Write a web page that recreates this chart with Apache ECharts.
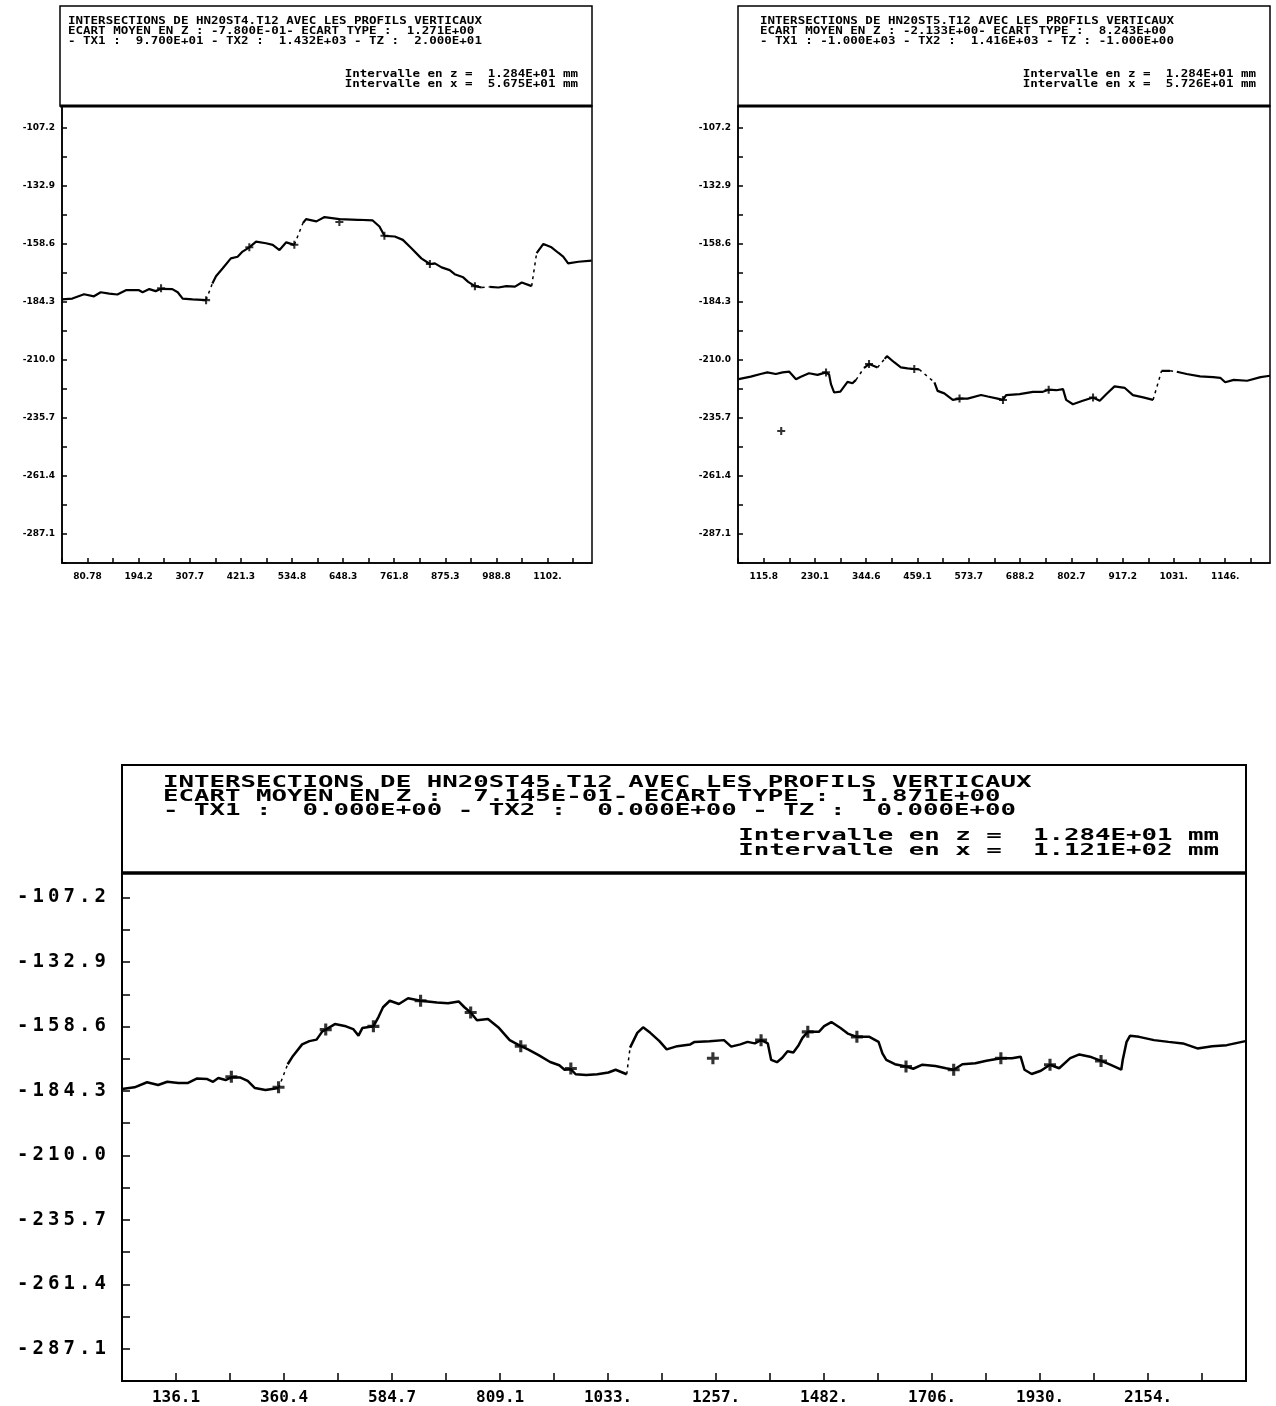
<!DOCTYPE html>
<html><head><meta charset="utf-8">
<script src="https://cdn.jsdelivr.net/npm/echarts@6/dist/echarts.min.js"></script>
<style>html,body{margin:0;padding:0;background:#fff}#c{width:1276px;height:1406px}</style>
</head><body><div id="c"></div><script>
// ---------- shared axis labels ----------
const yLabelVals = [-107.2, -132.9, -158.6, -184.3, -210.0, -235.7, -261.4, -287.1];
const yLabelTexts = ['-107.2', '-132.9', '-158.6', '-184.3', '-210.0', '-235.7', '-261.4', '-287.1'];
const zStep = 12.84;
const zMin = -299.94, zMax = -97.5;

// ---------- chart 1 : HN20ST4.T12 ----------
const tlXLabelVals = [80.78, 194.2, 307.7, 421.3, 534.8, 648.3, 761.8, 875.3, 988.8, 1102];
const tlXLabelTexts = ['80.78', '194.2', '307.7', '421.3', '534.8', '648.3', '761.8', '875.3', '988.8', '1102.'];
const tlXStep = 56.75, tlXMin = 24.03, tlXMax = 1201;
const tlX = [24, 47, 73, 95, 110, 129, 147, 166, 195, 203, 218, 232, 244, 269, 281, 292, 314, 344, null,
  358, 366, 381, 399, 414, 425, 440, 455, 477, 492, 507, 522, 540, null,
  559, 566, 589, 607, 640, 681, 714, 729, 740, 763, 781, 800, 822, 841, 852, 867, 885, 896, 915, 926, 941, 956, null,
  974, 993, 1011, 1030, 1045, 1067, null,
  1078, 1093, 1111, 1126, 1137, 1148, 1171, 1200];
const tlZ = [-183.2, -182.8, -180.9, -181.8, -180.0, -180.6, -181.0, -179.1, -179.1, -180.0, -178.6, -179.5, -178.5, -178.6, -180.0, -182.8, -183.2, -183.5, null,
  -176.1, -172.9, -169.4, -165.0, -164.3, -162.0, -160.1, -157.6, -158.3, -159.0, -161.3, -157.9, -159.0, null,
  -149.4, -147.6, -148.6, -146.7, -147.6, -147.9, -148.2, -150.9, -155.0, -155.3, -156.8, -160.5, -165.0, -167.5, -167.2, -169.0, -170.2, -172.0, -173.4, -175.4, -177.3, -177.9, null,
  -177.6, -177.9, -177.3, -177.5, -175.7, -177.3, null,
  -162.7, -158.6, -160.1, -162.5, -164.2, -167.2, -166.5, -166.0];
const tlJumpX = [344, 358, null, 540, 559, null, 956, 974, null, 1067, 1078];
const tlJumpZ = [-183.5, -176.1, null, -159.0, -149.4, null, -177.9, -177.6, null, -177.3, -162.7];
const tlMarkX = [244, 344, 440, 540, 640, 740, 841, 941];
const tlMarkZ = [-178.2, -183.5, -160.1, -159.0, -148.9, -155.0, -167.5, -177.3];

// ---------- chart 2 : HN20ST5.T12 ----------
const trXLabelVals = [115.8, 230.1, 344.6, 459.1, 573.7, 688.2, 802.7, 917.2, 1031, 1146];
const trXLabelTexts = ['115.8', '230.1', '344.6', '459.1', '573.7', '688.2', '802.7', '917.2', '1031.', '1146.'];
const trXStep = 57.24, trXMin = 58.54, trXMax = 1246;
const trX = [60, 87, 109, 124, 143, 158, 173, 188, 199, 217, 236, 255, 262, 266, 273, 287, 303, 314, 322, null,
  340, 351, 370, null,
  386, 391, 407, 422, 437, 452, 463, null,
  497, 504, 519, 538, 553, 571, 601, 616, 638, 650, 657, 687, 717, 739, 752, 769, 784, 791, 806, 828, 851, 866, 881, 899, 922, 940, 963, 985, null,
  1004, 1023, null,
  1038, 1060, 1090, 1119, 1135, 1146, 1165, 1195, 1225, 1246];
const trZ = [-218.5, -217.4, -216.2, -215.5, -216.2, -215.5, -215.2, -218.5, -217.4, -215.9, -216.6, -215.5, -216.5, -220.7, -224.4, -224.0, -219.7, -220.3, -218.8, null,
  -213.5, -211.8, -213.3, null,
  -209.5, -208.3, -211.0, -213.3, -213.7, -214.0, -214.2, null,
  -219.9, -223.7, -224.8, -227.7, -227.1, -227.1, -225.5, -226.2, -227.1, -227.7, -225.6, -225.1, -224.1, -224.1, -223.2, -223.4, -222.9, -227.7, -229.6, -228.1, -226.6, -228.1, -225.1, -221.7, -222.4, -225.6, -226.6, -227.7, null,
  -214.8, -214.8, null,
  -215.2, -216.2, -217.3, -217.6, -217.9, -219.9, -218.8, -219.2, -217.6, -217.0];
const trJumpX = [322, 340, null, 370, 386, null, 463, 497, null, 985, 1004, null, 1023, 1038];
const trJumpZ = [-218.8, -213.5, null, -213.3, -209.5, null, -214.2, -219.9, null, -227.7, -214.8, null, -214.8, -215.2];
const trMarkX = [155, 255, 351, 452, 553, 650, 752, 851];
const trMarkZ = [-241.5, -215.5, -211.8, -214.0, -227.1, -227.7, -223.2, -226.6];

// ---------- chart 3 : HN20ST45.T12 ----------
const btXLabelVals = [136.1, 360.4, 584.7, 809.1, 1033.3, 1257.6, 1481.9, 1706.2, 1930.5, 2154.8];
const btXLabelTexts = ['136.1', '360.4', '584.7', '809.1', '1033.', '1257.', '1482.', '1706.', '1930.', '2154.'];
const btXStep = 112.15, btXMin = 23.95, btXMax = 2358;
const btX = [24, 50, 76, 99, 118, 141, 160, 179, 201, 213, 224, 239, 251, 270, 285, 300, 322, 349, null,
  368, 379, 398, 413, 428, 440, 447, 466, 489, 504, 515, 523, 546, 557, 566, 580, 599, 618, 644, 678, 701, 723, 735, 748, 761, 784, 807, 829, 852, 867, 890, 913, 932, 943, 956, 966, 988, 1011, 1034, 1049, 1072, null,
  1079, 1094, 1106, 1121, 1140, 1155, 1177, 1204, 1213, 1244, 1274, 1289, 1308, 1323, 1338, 1351, 1365, 1372, 1384, 1395, 1406, 1418, 1429, 1437, 1448, 1471, 1482, 1497, 1516, 1531, 1550, 1576, 1595, 1603, 1611, 1629, 1652, 1667, 1686, 1713, 1735, 1751, 1769, 1796, 1819, 1849, 1872, 1890, 1898, 1913, 1932, 1951, 1970, 1993, 2012, 2034, 2057, 2076, 2099, 2102, 2110, 2117, 2136, 2167, 2197, 2227, 2257, 2288, 2318, 2357];
const btZ = [-183.6, -182.9, -180.9, -182.0, -180.7, -181.2, -181.2, -179.4, -179.6, -180.7, -179.2, -180.0, -178.9, -179.0, -180.3, -183.2, -184.0, -183.2, null,
  -173.7, -170.4, -165.8, -164.5, -163.9, -160.6, -159.9, -157.7, -158.6, -159.7, -162.3, -159.3, -158.6, -154.7, -151.0, -148.4, -149.7, -147.4, -148.4, -149.1, -149.4, -148.7, -151.0, -153.1, -156.2, -155.7, -159.3, -164.1, -166.5, -167.8, -170.2, -172.8, -174.1, -175.9, -175.7, -177.7, -178.0, -177.7, -177.0, -175.9, -177.7, null,
  -167.1, -161.2, -159.0, -161.2, -164.5, -167.8, -166.5, -165.8, -164.8, -164.5, -164.1, -166.7, -165.8, -164.8, -165.4, -164.1, -165.4, -172.0, -172.9, -171.1, -168.5, -169.0, -166.1, -163.2, -160.8, -160.8, -158.5, -156.9, -159.3, -161.5, -162.8, -162.8, -164.8, -169.4, -172.0, -173.7, -174.6, -175.5, -173.9, -174.4, -175.3, -175.9, -173.7, -173.3, -172.3, -171.3, -171.3, -170.7, -175.9, -177.6, -176.3, -173.9, -175.3, -171.3, -169.8, -170.7, -172.4, -173.9, -175.9, -172.0, -164.8, -162.4, -162.8, -164.1, -164.8, -165.4, -167.4, -166.5, -166.1, -164.5];
const btJumpX = [349, 368, null, 1072, 1079];
const btJumpZ = [-183.2, -173.7, null, -177.7, -167.1];
const btMarkX = [251, 349, 447, 546, 644, 748, 852, 956, 1251, 1351, 1448, 1550, 1652, 1751, 1849, 1951, 2057];
const btMarkZ = [-178.7, -182.9, -159.9, -158.6, -148.4, -153.1, -166.5, -175.4, -171.3, -164.1, -160.8, -162.8, -174.6, -175.9, -171.3, -173.9, -172.4];

// ---------- header texts ----------
const tlHead = ['INTERSECTIONS DE HN20ST4.T12 AVEC LES PROFILS VERTICAUX',
  'ECART MOYEN EN Z : -7.800E-01- ECART TYPE :  1.271E+00',
  '- TX1 :  9.700E+01 - TX2 :  1.432E+03 - TZ :  2.000E+01'];
const tlInt = ['Intervalle en z =  1.284E+01 mm', 'Intervalle en x =  5.675E+01 mm'];
const trHead = ['INTERSECTIONS DE HN20ST5.T12 AVEC LES PROFILS VERTICAUX',
  'ECART MOYEN EN Z : -2.133E+00- ECART TYPE :  8.243E+00',
  '- TX1 : -1.000E+03 - TX2 :  1.416E+03 - TZ : -1.000E+00'];
const trInt = ['Intervalle en z =  1.284E+01 mm', 'Intervalle en x =  5.726E+01 mm'];
const btHead = ['INTERSECTIONS DE HN20ST45.T12 AVEC LES PROFILS VERTICAUX',
  'ECART MOYEN EN Z :  7.145E-01- ECART TYPE :  1.871E+00',
  '- TX1 :  0.000E+00 - TX2 :  0.000E+00 - TZ :  0.000E+00'];
const btInt = ['Intervalle en z =  1.284E+01 mm', 'Intervalle en x =  1.121E+02 mm'];

// ---------- helpers ----------
function pairs(xs, zs) { return xs.map((x, i) => (x === null || zs[i] === null) ? ['-', '-'] : [x, zs[i]]); }
function ticksFrom(min, max, step) { const t = []; for (let v = min; v <= max + 1e-9; v += step) t.push(+v.toFixed(4)); return t; }
function fmt(vals, texts) { return v => { const i = vals.findIndex(a => Math.abs(a - v) < 1e-6); return i >= 0 ? texts[i] : ''; }; }
function fmtWide(vals, texts) {
  const f = fmt(vals, texts);
  return v => f(v).split('').map(ch => '{c|' + ch + '}').join('');
}
const yTicks = ticksFrom(zMin, zMax, zStep);
const PLUS = 'path://M3.7,0H6.3V3.7H10V6.3H6.3V10H3.7V6.3H0V3.7H3.7Z';

function xAxis(gi, min, max, step, lv, lt, big) {
  return {
    type: 'value', gridIndex: gi, min: min, max: max,
    axisLine: { show: true, lineStyle: { color: '#000', width: big ? 2 : 1.5 } },
    axisTick: { show: true, inside: true, length: big ? 8 : 5, customValues: ticksFrom(min, max, step), lineStyle: { color: '#000', width: 1.5 } },
    axisLabel: { customValues: lv, formatter: fmt(lv, lt), color: '#000', margin: 9,
      fontFamily: big ? 'DejaVu Sans Mono' : 'DejaVu Sans', fontWeight: 'bold', fontSize: big ? 16 : 9 },
    splitLine: { show: false }
  };
}
function yAxis(gi, big) {
  const lab = big ? {
      customValues: yLabelVals, formatter: fmtWide(yLabelVals, yLabelTexts), margin: 14,
      rich: { c: { width: 15.5, align: 'center', color: '#000', fontFamily: 'DejaVu Sans Mono', fontWeight: 'bold', fontSize: 19 } }
    } : {
      customValues: yLabelVals, formatter: fmt(yLabelVals, yLabelTexts), color: '#000', margin: 7,
      fontFamily: 'DejaVu Sans', fontWeight: 'bold', fontSize: 9
    };
  return {
    type: 'value', gridIndex: gi, min: zMin, max: zMax,
    axisLine: { show: true, lineStyle: { color: '#000', width: big ? 2 : 1.5 } },
    axisTick: { show: true, inside: true, length: big ? 8 : 5, customValues: yTicks, lineStyle: { color: '#000', width: 1.5 } },
    axisLabel: lab,
    splitLine: { show: false }
  };
}
function seriesFor(i, xs, zs, jx, jz, mx, mz, big) {
  return [
    { type: 'line', xAxisIndex: i, yAxisIndex: i, data: pairs(xs, zs), showSymbol: false, connectNulls: false,
      lineStyle: { color: '#000', width: big ? 2.5 : 2.2 }, silent: true },
    { type: 'line', xAxisIndex: i, yAxisIndex: i, data: pairs(jx, jz), showSymbol: false, connectNulls: false,
      lineStyle: { color: '#000', width: 1.5, type: [3, 4] }, silent: true },
    { type: 'scatter', xAxisIndex: i, yAxisIndex: i, data: pairs(mx, mz), symbol: PLUS, symbolSize: big ? 12 : 8,
      itemStyle: { color: '#000' }, silent: true }
  ];
}
function header(x, y, w, h, lines, ints, o) {
  const els = [
    { type: 'rect', shape: { x: x, y: y, width: w, height: h }, style: { fill: '#fff', stroke: '#000', lineWidth: o.bw }, z: 10 },
    { type: 'line', shape: { x1: x, y1: y + h, x2: x + w, y2: y + h }, style: { stroke: '#000', lineWidth: o.tw }, z: 11 }
  ];
  lines.forEach((t, i) => els.push({ type: 'text', x: o.tx, y: o.ly[i], scaleX: o.sx, z: 12,
    style: { text: t, font: o.font, fill: '#000', textAlign: 'left', textVerticalAlign: 'middle' } }));
  ints.forEach((t, i) => els.push({ type: 'text', x: o.rx, y: o.iy[i], scaleX: o.sx, z: 12,
    style: { text: t, font: o.font, fill: '#000', textAlign: 'right', textVerticalAlign: 'middle' } }));
  return els;
}

const chart = echarts.init(document.getElementById('c'), null, { renderer: 'canvas' });
const topOpt = { bw: 1.5, tw: 3, sx: 1.25, font: 'bold 10px "DejaVu Sans Mono"', ly: [21, 31, 41], iy: [74, 84] };
const botOpt = { bw: 2, tw: 3.5, sx: 1.61, font: 'bold 16px "DejaVu Sans Mono"', ly: [783, 797, 811], iy: [836, 851] };
chart.setOption({
  animation: false,
  backgroundColor: '#fff',
  grid: [
    { left: 62, top: 106, width: 530, height: 457, show: true, borderColor: '#000', borderWidth: 1.5, backgroundColor: 'transparent' },
    { left: 738, top: 106, width: 532, height: 457, show: true, borderColor: '#000', borderWidth: 1.5, backgroundColor: 'transparent' },
    { left: 122, top: 873, width: 1124, height: 509, show: true, borderColor: '#000', borderWidth: 2, backgroundColor: 'transparent' }
  ],
  xAxis: [
    xAxis(0, tlXMin, tlXMax, tlXStep, tlXLabelVals, tlXLabelTexts, false),
    xAxis(1, trXMin, trXMax, trXStep, trXLabelVals, trXLabelTexts, false),
    xAxis(2, btXMin, btXMax, btXStep, btXLabelVals, btXLabelTexts, true)
  ],
  yAxis: [yAxis(0, false), yAxis(1, false), yAxis(2, true)],
  series: [].concat(
    seriesFor(0, tlX, tlZ, tlJumpX, tlJumpZ, tlMarkX, tlMarkZ, false),
    seriesFor(1, trX, trZ, trJumpX, trJumpZ, trMarkX, trMarkZ, false),
    seriesFor(2, btX, btZ, btJumpX, btJumpZ, btMarkX, btMarkZ, true)
  ),
  graphic: { elements: [].concat(
    header(60, 6, 532, 100, tlHead, tlInt, Object.assign({ tx: 68, rx: 578 }, topOpt)),
    header(738, 6, 532, 100, trHead, trInt, Object.assign({ tx: 760, rx: 1256 }, topOpt)),
    header(122, 765, 1124, 108, btHead, btInt, Object.assign({ tx: 163, rx: 1219 }, botOpt))
  ) }
});
</script></body></html>
